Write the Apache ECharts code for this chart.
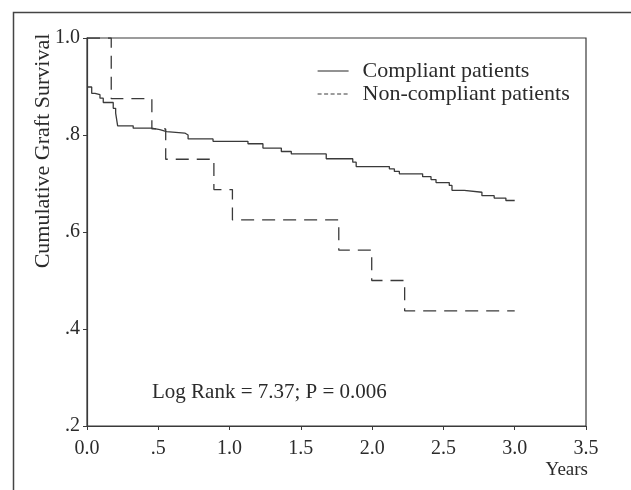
<!DOCTYPE html>
<html>
<head>
<meta charset="utf-8">
<script src="https://cdn.jsdelivr.net/npm/echarts@6/dist/echarts.min.js"></script>
<style>
html,body{margin:0;padding:0;background:#fff;}
#chart{width:631px;height:490px;}
</style>
</head>
<body>
<div id="chart"></div>
<script>
// ---- data ----
const seriesNames = ['Compliant patients', 'Non-compliant patients'];
// [years, cumulative survival] — survival value reached at each step time
const compliant = [
  [0, 0.899], [0.033, 0.886], [0.056, 0.883], [0.091, 0.876], [0.114, 0.867],
  [0.184, 0.855], [0.201, 0.845], [0.215, 0.819], [0.324, 0.814], [0.453, 0.811],
  [0.511, 0.807], [0.558, 0.804], [0.686, 0.800], [0.709, 0.792], [0.884, 0.787],
  [1.129, 0.782], [1.234, 0.773], [1.363, 0.766], [1.433, 0.761], [1.678, 0.751],
  [1.864, 0.744], [1.888, 0.735], [2.121, 0.730], [2.156, 0.725], [2.191, 0.720],
  [2.354, 0.714], [2.413, 0.708], [2.448, 0.702], [2.541, 0.696], [2.560, 0.686],
  [2.646, 0.682], [2.770, 0.675], [2.856, 0.670], [2.938, 0.665], [3.0, 0.665]
];
const nonCompliant = [
  [0, 1.0], [0.170, 0.875], [0.455, 0.8125], [0.552, 0.75], [0.890, 0.6875],
  [1.020, 0.625], [1.766, 0.5625], [1.997, 0.5], [2.228, 0.4375], [3.0, 0.4375]
];
const xTickLabels = ['0.0', '.5', '1.0', '1.5', '2.0', '2.5', '3.0', '3.5'];
const yTickLabels = ['.2', '.4', '.6', '.8', '1.0'];
const yAxisTitle = 'Cumulative Graft Survival';
const xAxisTitle = 'Years';
const statText = 'Log Rank = 7.37; P = 0.006';

// ---- chart ----
const FONT = "'Liberation Serif', 'Times New Roman', serif";
const INK = '#2b2b2b';
const LINE = '#3a3a3a';
const chart = echarts.init(document.getElementById('chart'), null, {renderer: 'canvas'});
chart.setOption({
  animation: false,
  backgroundColor: '#ffffff',
  grid: {left: 87, right: 45, top: 38, bottom: 64, show: true, borderColor: LINE, borderWidth: 1.2, backgroundColor: 'transparent'},
  legend: {
    orient: 'vertical', left: 317, top: 60, padding: 0, itemWidth: 31, itemHeight: 14, itemGap: 1,
    itemStyle: {opacity: 0},
    textStyle: {fontFamily: FONT, fontSize: 22, color: INK, padding: [0, 0, 0, 9]},
    data: [
      {name: seriesNames[0], lineStyle: {width: 1.1, type: 'solid'}},
      {name: seriesNames[1], lineStyle: {width: 1.2, type: [4, 2.5]}}
    ]
  },
  xAxis: {
    type: 'value', min: 0, max: 3.5, interval: 0.5,
    axisLine: {show: true, onZero: false, lineStyle: {color: LINE, width: 1.2}},
    axisTick: {show: true, length: 4, lineStyle: {color: LINE}},
    splitLine: {show: false},
    axisLabel: {margin: 13, fontFamily: FONT, fontSize: 20, color: INK,
      formatter: v => xTickLabels[Math.round(v / 0.5)]}
  },
  yAxis: {
    type: 'value', min: 0.2, max: 1.0, interval: 0.2,
    axisLine: {show: true, onZero: false, lineStyle: {color: LINE, width: 1.2}},
    axisTick: {show: true, length: 4, lineStyle: {color: LINE}},
    splitLine: {show: false},
    axisLabel: {margin: 7, fontFamily: FONT, fontSize: 20, color: INK,
      formatter: v => yTickLabels[Math.round((v - 0.2) / 0.2)]}
  },
  series: [
    {name: seriesNames[0], type: 'line', step: 'end', data: compliant, symbol: 'none',
      lineStyle: {color: LINE, width: 1.3, type: 'solid'}, itemStyle: {color: LINE}},
    {name: seriesNames[1], type: 'line', step: 'end', data: nonCompliant, symbol: 'none',
      lineStyle: {color: LINE, width: 1.3, type: [13, 8]}, itemStyle: {color: LINE}}
  ],
  graphic: [
    {type: 'polyline', silent: true, shape: {points: [[13.5, 490], [13.5, 12.5], [631, 12.5]]},
      style: {stroke: '#444', lineWidth: 1.5, fill: null}},
    {type: 'text', x: 43, y: 151, rotation: Math.PI / 2,
      style: {text: yAxisTitle, fontFamily: FONT, fontSize: 22, fill: INK, textAlign: 'center', textVerticalAlign: 'middle'}},
    {type: 'text', x: 152, y: 392,
      style: {text: statText, fontFamily: FONT, fontSize: 21, fill: INK, textAlign: 'left', textVerticalAlign: 'middle'}},
    {type: 'text', x: 588, y: 470,
      style: {text: xAxisTitle, fontFamily: FONT, fontSize: 19, fill: INK, textAlign: 'right', textVerticalAlign: 'middle'}}
  ]
});
</script>
</body>
</html>
